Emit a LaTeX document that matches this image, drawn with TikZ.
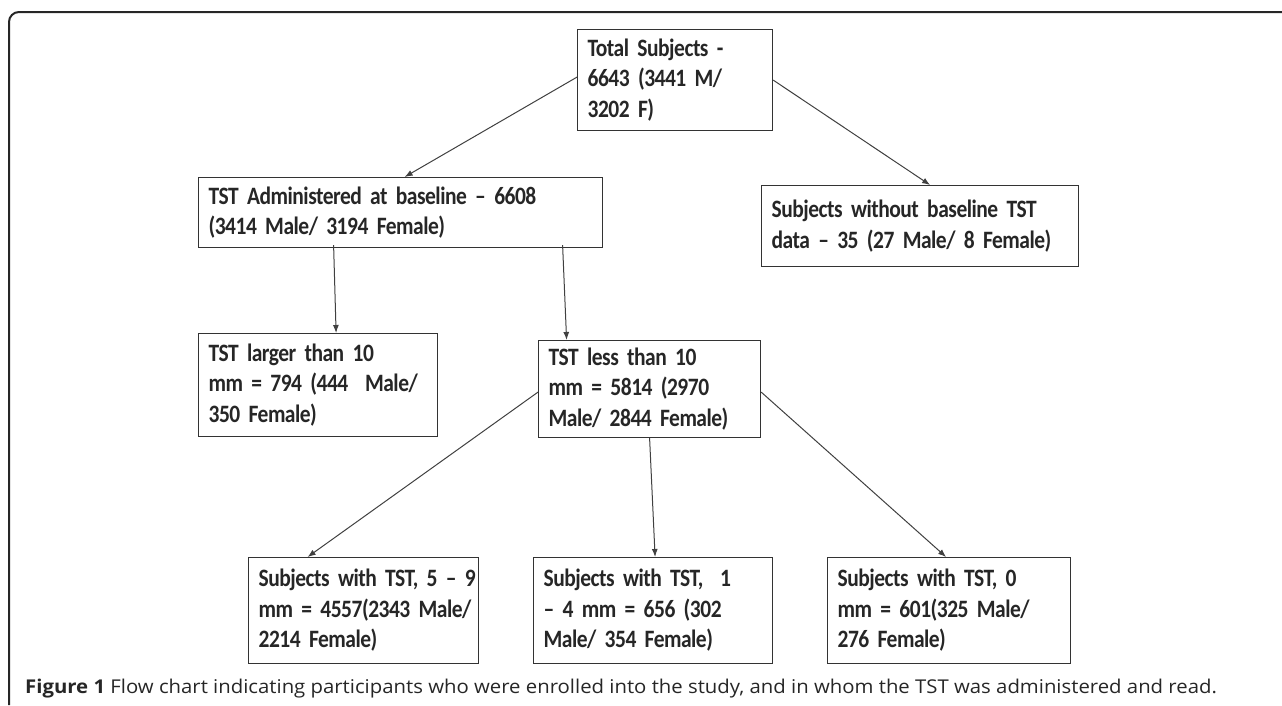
\documentclass[tikz,border=0pt]{standalone}
\usepackage{fontspec}
\setmainfont{Carlito}[LetterSpace=-2, FakeStretch=0.86]
\newfontfamily\capfont{Open Sans}[FakeStretch=1.07]
\usetikzlibrary{arrows.meta}
\begin{document}
\begin{tikzpicture}[x=1pt, y=-1pt,
	flowbox/.style = {draw=black!80, line width=1.2pt, anchor=north west, inner xsep=10pt, inner ysep=0pt, align=left, font=\bfseries\fontsize{25}{30.5}\selectfont, text=black!85},
	flowarrow/.style = {draw=black!75, line width=1pt, -{Latex[length=8pt,width=6pt]}}]
	\useasboundingbox (0, 0) rectangle (1282, 705);
	\draw[line width=2pt, black!85, rounded corners=10pt] (9, 705) -- (9, 12) -- (1282, 12);
	
	\node[flowbox, minimum width=195pt, minimum height=101pt, text width=175pt] at (577, 29) (total) {\mbox{Total Subjects -}\\\mbox{6643 (3441 M/}\\\mbox{3202 F)}};
	\node[flowbox, minimum width=404pt, minimum height=70pt, text width=384pt] at (198, 177) (admin) {\mbox{TST Administered at baseline -- 6608}\\\mbox{(3414 Male/ 3194 Female)}};
	\node[flowbox, minimum width=317pt, minimum height=81pt, text width=297pt] at (761, 185) (without) {\mbox{Subjects without baseline TST}\\\mbox{data -- 35 (27 Male/ 8 Female)}};
	
	\node[flowbox, minimum width=239pt, minimum height=103pt, text width=219pt] at (198, 333) (larger) {\mbox{TST larger than 10}\\\mbox{mm = 794 (444 \ Male/}\\\mbox{350 Female)}};
	\node[flowbox, minimum width=222pt, minimum height=97pt, text width=202pt] at (538, 340) (less) {\mbox{TST less than 10}\\\mbox{mm = 5814 (2970}\\\mbox{Male/ 2844 Female)}};
	
	\node[flowbox, minimum width=230pt, minimum height=106pt, text width=210pt] at (248, 557) (fivenine) {\mbox{Subjects with TST, 5 -- 9}\\\mbox{mm = 4557(2343 Male/}\\\mbox{2214 Female)}};
	\node[flowbox, minimum width=239pt, minimum height=106pt, text width=219pt] at (533, 557) (onefour) {\mbox{Subjects with TST, \ 1}\\\mbox{-- 4 mm = 656 (302}\\\mbox{Male/ 354 Female)}};
	\node[flowbox, minimum width=243pt, minimum height=106pt, text width=223pt] at (827, 557) (zero) {\mbox{Subjects with TST, 0}\\\mbox{mm = 601(325 Male/}\\\mbox{276 Female)}};
	
	\draw[flowarrow] ([yshift=3pt]total.west) -- ([xshift=4pt]admin.north);
	\draw[flowarrow] (total.east) -- ([xshift=10pt]without.north);
	\draw[flowarrow] ([xshift=-67pt, yshift=3pt]admin.south) -- ([xshift=18pt]larger.north);
	\draw[flowarrow] ([xshift=162pt, yshift=3pt]admin.south) -- ([xshift=-83pt]less.north);
	\draw[flowarrow] ([yshift=-3pt]less.west) -- ([xshift=-56pt]fivenine.north);
	\draw[flowarrow] (less.south) -- ([xshift=2pt]onefour.north);
	\draw[flowarrow] ([yshift=-3pt]less.east) -- ([xshift=-3pt]zero.north);
	
	\node[anchor=base west, inner sep=0pt, font=\capfont\fontsize{19}{22}\selectfont, text=black!85] at (25, 693) (caption) {\textbf{Figure 1} Flow chart indicating participants who were enrolled into the study, and in whom the TST was administered and read.};
\end{tikzpicture}
\end{document}
